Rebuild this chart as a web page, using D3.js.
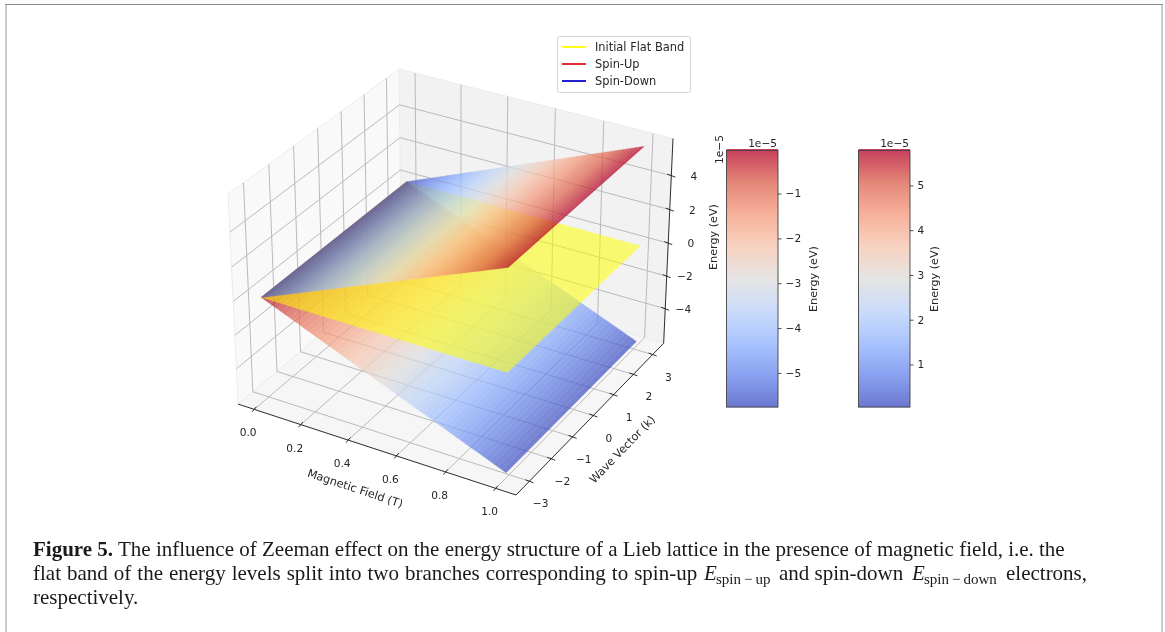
<!DOCTYPE html>
<html>
<head>
<meta charset="utf-8">
<script src="https://cdn.jsdelivr.net/npm/d3@7"></script>
<style>
  html, body { margin: 0; padding: 0; background: #fff; }
  svg { display: block; }
  .mpl { filter: blur(0.4px); }
  .mpl text { font-family: "DejaVu Sans", sans-serif; font-size: 10.6px; fill: #262626; }
  .mpl text.label { font-size: 11.2px; }
  .caption { filter: blur(0.3px); }
  .caption text { font-family: "Liberation Serif", serif; font-size: 21px; fill: #1a1a1a; }
</style>
</head>
<body>
<script>
// values
var fieldValues = [0, 0.1, 0.2, 0.3, 0.4, 0.5, 0.6, 0.7, 0.8, 0.9, 1.0];
var waveVectorEnds = [-3.14, 3.14];
var spinUpEnergy = [0, 0.58, 1.17, 1.75, 2.34, 2.92, 3.51, 4.09, 4.68, 5.26, 5.85];
var spinDownEnergy = [0, -0.58, -1.17, -1.75, -2.34, -2.92, -3.51, -4.09, -4.68, -5.26, -5.85];
var flatEnergy = [0, 0, 0, 0, 0, 0, 0, 0, 0, 0, 0];

var fieldTicks = [0, 0.2, 0.4, 0.6, 0.8, 1.0];
var waveTicks = [-3, -2, -1, 0, 1, 2, 3];
var energyTicks = [-4, -2, 0, 2, 4];
var downBarTicks = [-5, -4, -3, -2, -1];
var upBarTicks = [1, 2, 3, 4, 5];
var downBarRange = [-5.76, -0.04];
var upBarRange = [0.05, 5.78];

var legendNames = ["Initial Flat Band", "Spin-Up", "Spin-Down"];
var legendColors = ["#ffff00", "#e0141c", "#0a0ad0"];

// coolwarm colormap
var coolStops = ["#3b4cc0", "#6282ea", "#8db0fe", "#b8d0f9", "#dddcdc", "#f5c4ac", "#f4987a", "#dd604c", "#b40426"];

var width = 1165, height = 632;

var svg = d3.select("body").append("svg")
  .attr("width", width)
  .attr("height", height);

// page frame
svg.append("line").attr("x1", 6).attr("x2", 6).attr("y1", 4).attr("y2", height)
  .attr("stroke", "#cccccc").attr("stroke-width", 2);
svg.append("line").attr("x1", 1162).attr("x2", 1162).attr("y1", 4).attr("y2", height)
  .attr("stroke", "#cccccc").attr("stroke-width", 2);
svg.append("line").attr("x1", 5).attr("x2", 1163).attr("y1", 4.5).attr("y2", 4.5)
  .attr("stroke", "#8c8c8c").attr("stroke-width", 1);

var chart = svg.append("g").attr("class", "mpl");

// axis limits of the 3d box
var xLim = [-0.07, 1.08], yLim = [-3.6, 3.58], zLim = [-6.15, 6.15];

// camera like matplotlib (elev 30, azim -60, dist 10)
var boxAspect = [1.19, 1.19, 0.893];
var elev = 30 * Math.PI / 180, azim = -60 * Math.PI / 180, dist = 10;
var wDir = [Math.cos(elev) * Math.cos(azim), Math.cos(elev) * Math.sin(azim), Math.sin(elev)];
var uLen = Math.hypot(wDir[0], wDir[1]);
var uDir = [-wDir[1] / uLen, wDir[0] / uLen, 0];
var vDir = [
  wDir[1] * uDir[2] - wDir[2] * uDir[1],
  wDir[2] * uDir[0] - wDir[0] * uDir[2],
  wDir[0] * uDir[1] - wDir[1] * uDir[0]
];

function dot(a, b) { return a[0] * b[0] + a[1] * b[1] + a[2] * b[2]; }

var normX = d3.scaleLinear().domain(xLim).range([0, boxAspect[0]]);
var normY = d3.scaleLinear().domain(yLim).range([0, boxAspect[1]]);
var normZ = d3.scaleLinear().domain(zLim).range([0, boxAspect[2]]);

function camera(b, k, e) {
  var p = [
    normX(b) - boxAspect[0] / 2 - dist * wDir[0],
    normY(k) - boxAspect[1] / 2 - dist * wDir[1],
    normZ(e) - boxAspect[2] / 2 - dist * wDir[2]
  ];
  var d = -dot(p, wDir);
  return [dot(p, uDir) / d, dot(p, vDir) / d];
}

// screen scales fitted to the box corners
var corners = [];
xLim.forEach(function(a) { yLim.forEach(function(b) { zLim.forEach(function(c) { corners.push(camera(a, b, c)); }); }); });
var screenX = d3.scaleLinear().domain(d3.extent(corners, function(c) { return c[0]; })).range([228, 673]);
var screenY = d3.scaleLinear().domain(d3.extent(corners, function(c) { return c[1]; })).range([495, 69]);

function project(b, k, e) {
  var c = camera(b, k, e);
  return [screenX(c[0]), screenY(c[1])];
}

var line3d = d3.line();

// panes
var panes = [
  {fill: "#f9f9f9", pts: [[xLim[0], yLim[0], zLim[0]], [xLim[0], yLim[1], zLim[0]], [xLim[0], yLim[1], zLim[1]], [xLim[0], yLim[0], zLim[1]]]},
  {fill: "#f2f2f2", pts: [[xLim[0], yLim[1], zLim[0]], [xLim[1], yLim[1], zLim[0]], [xLim[1], yLim[1], zLim[1]], [xLim[0], yLim[1], zLim[1]]]},
  {fill: "#f6f6f6", pts: [[xLim[0], yLim[0], zLim[0]], [xLim[1], yLim[0], zLim[0]], [xLim[1], yLim[1], zLim[0]], [xLim[0], yLim[1], zLim[0]]]}
];
chart.selectAll(".pane").data(panes).enter().append("path")
  .attr("class", "pane")
  .attr("fill", function(d) { return d.fill; })
  .attr("stroke", "#ececec")
  .attr("d", function(d) { return line3d(d.pts.map(function(p) { return project(p[0], p[1], p[2]); })) + "Z"; });

// grid lines on the panes
function gridPath(points) {
  chart.append("path")
    .attr("fill", "none")
    .attr("stroke", "#bababa")
    .attr("stroke-width", 1)
    .attr("d", line3d(points.map(function(p) { return project(p[0], p[1], p[2]); })));
}
fieldTicks.forEach(function(t) {
  gridPath([[t, yLim[0], zLim[0]], [t, yLim[1], zLim[0]], [t, yLim[1], zLim[1]]]);
});
waveTicks.forEach(function(t) {
  gridPath([[xLim[1], t, zLim[0]], [xLim[0], t, zLim[0]], [xLim[0], t, zLim[1]]]);
});
energyTicks.forEach(function(t) {
  gridPath([[xLim[0], yLim[0], t], [xLim[0], yLim[1], t], [xLim[1], yLim[1], t]]);
});

// colour scale for the surfaces
function coolScale(domain) {
  return d3.scaleLinear()
    .domain(d3.quantize(d3.interpolateNumber(domain[0], domain[1]), coolStops.length))
    .range(coolStops)
    .clamp(true);
}

// one surface: strips across the wave vector, coloured by energy
function drawSurface(energy, colorOf, opacity) {
  var g = chart.append("g").attr("opacity", opacity);
  var substeps = 6;
  d3.range(fieldValues.length - 1).forEach(function(i) {
    d3.range(substeps).forEach(function(s) {
      var b0 = fieldValues[i] + (fieldValues[i + 1] - fieldValues[i]) * s / substeps;
      var b1 = fieldValues[i] + (fieldValues[i + 1] - fieldValues[i]) * (s + 1) / substeps;
      var e0 = energy[i] + (energy[i + 1] - energy[i]) * s / substeps;
      var e1 = energy[i] + (energy[i + 1] - energy[i]) * (s + 1) / substeps;
      var c = colorOf((e0 + e1) / 2);
      g.append("path")
        .attr("fill", c)
        .attr("stroke", c)
        .attr("stroke-width", 0.4)
        .attr("d", line3d([
          project(b0, waveVectorEnds[0], e0),
          project(b1, waveVectorEnds[0], e1),
          project(b1, waveVectorEnds[1], e1),
          project(b0, waveVectorEnds[1], e0)
        ]) + "Z");
    });
  });
}

var upColor = coolScale([0, 5.85]);
var downColor = coolScale([-5.85, 0]);

drawSurface(spinDownEnergy, downColor, 0.7);
drawSurface(flatEnergy, function() { return "#ffff00"; }, 0.55);
drawSurface(spinUpEnergy, upColor, 0.74);

// 3d axis lines and ticks
function axisLine(a, b) {
  var p = project(a[0], a[1], a[2]), q = project(b[0], b[1], b[2]);
  chart.append("line")
    .attr("x1", p[0]).attr("y1", p[1]).attr("x2", q[0]).attr("y2", q[1])
    .attr("stroke", "#1a1a1a").attr("stroke-width", 0.9);
}
axisLine([xLim[0], yLim[0], zLim[0]], [xLim[1], yLim[0], zLim[0]]);
axisLine([xLim[1], yLim[0], zLim[0]], [xLim[1], yLim[1], zLim[0]]);
axisLine([xLim[1], yLim[1], zLim[0]], [xLim[1], yLim[1], zLim[1]]);

function tick3d(p, dx, dy) {
  chart.append("line")
    .attr("x1", p[0] - dx).attr("y1", p[1] - dy).attr("x2", p[0] + dx).attr("y2", p[1] + dy)
    .attr("stroke", "#1a1a1a").attr("stroke-width", 0.9);
}
function minus(v, digits) {
  return (digits ? v.toFixed(digits) : String(v)).replace("-", "\u2212");
}

fieldTicks.forEach(function(t) {
  var p = project(t, yLim[0], zLim[0]);
  tick3d(p, 2.2, -2.6);
  chart.append("text").attr("x", p[0] - 6).attr("y", p[1] + 27).attr("text-anchor", "middle").text(minus(t, 1));
});
waveTicks.forEach(function(t) {
  var p = project(xLim[1], t, zLim[0]);
  tick3d(p, 4, 1.5);
  chart.append("text").attr("x", p[0] + 19).attr("y", p[1] + 26).attr("text-anchor", "end").text(minus(t));
});
energyTicks.forEach(function(t) {
  var p = project(xLim[1], yLim[1], t);
  tick3d(p, 4, 1.5);
  chart.append("text").attr("x", p[0] + 26).attr("y", p[1] + 4).attr("text-anchor", "end").text(minus(t));
});

chart.append("text").attr("class", "label")
  .attr("transform", "translate(354,492) rotate(18.5)")
  .attr("text-anchor", "middle")
  .text("Magnetic Field (T)");
chart.append("text").attr("class", "label")
  .attr("transform", "translate(625,452) rotate(-46)")
  .attr("text-anchor", "middle")
  .text("Wave Vector (k)");
chart.append("text").attr("class", "label")
  .attr("transform", "translate(717,237) rotate(-90)")
  .attr("text-anchor", "middle")
  .text("Energy (eV)");
chart.append("text")
  .attr("transform", "translate(723,164) rotate(-90)")
  .attr("text-anchor", "start")
  .text("1e\u22125");

// legend
var legend = chart.append("g");
legend.append("rect")
  .attr("x", 557.5).attr("y", 36.5).attr("width", 133).attr("height", 56).attr("rx", 2)
  .attr("fill", "#fff").attr("stroke", "#d4d4d4");
var legendY = d3.scalePoint().domain(legendNames).range([47, 81]);
legend.selectAll(".entry").data(legendNames).enter().append("line")
  .attr("x1", 562).attr("x2", 586)
  .attr("y1", function(d) { return legendY(d); })
  .attr("y2", function(d) { return legendY(d); })
  .attr("stroke", function(d, i) { return legendColors[i]; })
  .attr("stroke-width", 1.8);
legend.selectAll(".name").data(legendNames).enter().append("text")
  .attr("x", 595)
  .attr("y", function(d) { return legendY(d) + 3.8; })
  .style("font-size", "11.4px")
  .text(function(d) { return d; });

// colour bars
function colorBar(left, domain, ticks, labelX) {
  var top = 150.5, bottom = 407, barW = 51.5;
  var y = d3.scaleLinear().domain(domain).range([bottom, top]);
  var color = coolScale(domain);
  var g = chart.append("g");
  var steps = d3.range(bottom, top, -2);
  var strips = g.append("g").attr("opacity", 0.75);
  strips.selectAll("rect").data(steps).enter().append("rect")
    .attr("x", left).attr("width", barW)
    .attr("y", function(d) { return d - 2; }).attr("height", 2.4)
    .attr("fill", function(d) { return color(y.invert(d - 1)); });
  g.append("rect")
    .attr("x", left).attr("y", top).attr("width", barW).attr("height", bottom - top)
    .attr("fill", "none").attr("stroke", "#444").attr("stroke-width", 0.9);

  var axis = d3.axisRight(y).tickValues(ticks).tickSize(3.5).tickPadding(4)
    .tickFormat(function(d) { return minus(d); });
  var ag = g.append("g").attr("transform", "translate(" + (left + barW) + ",0)").call(axis);
  ag.select(".domain").remove();
  ag.selectAll("text").style("font-size", "10.6px").style("font-family", '"DejaVu Sans", sans-serif').style("fill", "#262626");
  ag.selectAll("line").attr("stroke", "#262626").attr("stroke-width", 0.8);

  g.append("text")
    .attr("x", left + barW - 1).attr("y", 147)
    .attr("text-anchor", "end")
    .text("1e\u22125");
  g.append("text").attr("class", "label")
    .attr("transform", "translate(" + labelX + ",279) rotate(-90)")
    .attr("text-anchor", "middle")
    .text("Energy (eV)");
}
colorBar(726.5, downBarRange, downBarTicks, 817);
colorBar(858.5, upBarRange, upBarTicks, 938);

// caption
var caption = svg.append("g").attr("class", "caption");
var line1 = caption.append("text").attr("x", 33).attr("y", 556);
line1.append("tspan").attr("font-weight", "bold").text("Figure 5.");
line1.append("tspan").text(" The influence of Zeeman effect on the energy structure of a Lieb lattice in the presence of magnetic field, i.e. the");
var line2 = caption.append("text").attr("x", 33).attr("y", 580);
line2.append("tspan").attr("word-spacing", 0.75).text("flat band of the energy levels split into two branches corresponding to spin-up ");
line2.append("tspan").attr("x", 704).attr("font-style", "italic").text("E");
line2.append("tspan").attr("x", 716).attr("dy", 4).style("font-size", "15px").text("spin\u2009\u2212\u2009up");
line2.append("tspan").attr("x", 779).attr("dy", -4).text("and spin-down");
line2.append("tspan").attr("x", 912).attr("font-style", "italic").text("E");
line2.append("tspan").attr("x", 924).attr("dy", 4).style("font-size", "15px").text("spin\u2009\u2212\u2009down");
line2.append("tspan").attr("x", 1006).attr("dy", -4).text("electrons,");
caption.append("text").attr("x", 33).attr("y", 604).text("respectively.");
</script>
</body>
</html>
